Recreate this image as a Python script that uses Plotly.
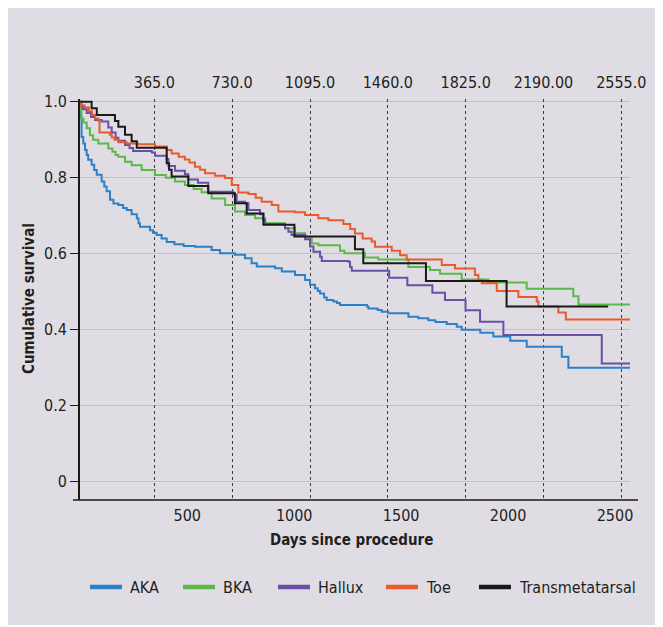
import plotly.graph_objects as go

# ---------------- data ----------------
series_names = ["AKA", "BKA", "Hallux", "Toe", "Transmetatarsal"]
series_colors = ["#2d80c6", "#5cb848", "#6a4fa8", "#eb5a2d", "#1a1a1a"]

aka_days = [0, 2, 6, 14, 22, 30, 37, 53, 65, 77, 100, 112, 123, 139, 155, 178, 200, 217, 240, 264, 272, 279, 326, 340,
            357, 380, 404, 440, 483, 536, 614, 653, 723, 770, 801, 825, 911, 942, 1004, 1051, 1074, 1097, 1110, 1121,
            1140, 1152, 1183, 1200, 1214, 1340, 1347, 1390, 1409, 1440, 1534, 1580, 1627, 1660, 1713, 1760, 1783, 1870,
            1931, 2010, 2087, 2251, 2282, 2570]
aka_surv = [1.0, 0.96, 0.907, 0.89, 0.873, 0.86, 0.847, 0.834, 0.82, 0.808, 0.79, 0.777, 0.764, 0.742, 0.732, 0.728,
            0.72, 0.715, 0.704, 0.693, 0.68, 0.671, 0.662, 0.655, 0.649, 0.64, 0.631, 0.625, 0.62, 0.618, 0.610, 0.601,
            0.597, 0.588, 0.575, 0.566, 0.562, 0.553, 0.544, 0.531, 0.518, 0.509, 0.502, 0.495, 0.485, 0.478, 0.474,
            0.47, 0.465, 0.461, 0.456, 0.452, 0.447, 0.443, 0.434, 0.43, 0.425, 0.42, 0.415, 0.408, 0.40, 0.392, 0.382,
            0.371, 0.355, 0.329, 0.300, 0.300]

bka_days = [0, 2, 5, 15, 30, 45, 60, 84, 131, 150, 165, 178, 209, 240, 287, 349, 400, 443, 489, 530, 567, 614, 677, 723,
            770, 817, 864, 957, 1004, 1051, 1082, 1113, 1214, 1235, 1331, 1393, 1534, 1635, 1682, 1783, 1908, 2087,
            2305, 2329, 2570]
bka_surv = [1.0, 0.975, 0.955, 0.945, 0.93, 0.912, 0.90, 0.89, 0.877, 0.868, 0.86, 0.855, 0.842, 0.833, 0.82, 0.807,
            0.80, 0.79, 0.781, 0.77, 0.762, 0.745, 0.728, 0.711, 0.702, 0.693, 0.680, 0.667, 0.654, 0.640, 0.627,
            0.622, 0.608, 0.601, 0.590, 0.585, 0.565, 0.557, 0.547, 0.532, 0.524, 0.508, 0.488, 0.466, 0.466]

hallux_days = [0, 5, 12, 30, 50, 69, 100, 131, 147, 165, 178, 209, 230, 247, 334, 349, 404, 412, 443, 489, 505, 550,
               598, 715, 731, 770, 786, 840, 856, 864, 957, 973, 988, 1051, 1074, 1090, 1121, 1129, 1253, 1261, 1269,
               1444, 1529, 1646, 1705, 1801, 1869, 1978, 2438, 2570]
hallux_surv = [1.0, 0.99, 0.98, 0.97, 0.96, 0.952, 0.948, 0.932, 0.919, 0.905, 0.897, 0.886, 0.878, 0.870, 0.866,
               0.858, 0.849, 0.831, 0.818, 0.809, 0.795, 0.787, 0.763, 0.755, 0.737, 0.733, 0.715, 0.704, 0.689, 0.678,
               0.667, 0.658, 0.649, 0.638, 0.619, 0.605, 0.592, 0.581, 0.579, 0.565, 0.555, 0.537, 0.517, 0.497, 0.478,
               0.451, 0.421, 0.386, 0.311, 0.311]

toe_days = [0, 3, 20, 40, 55, 69, 85, 90, 139, 147, 160, 178, 217, 271, 349, 404, 427, 460, 489, 510, 536, 560, 583, 630,
            677, 708, 739, 786, 820, 848, 895, 926, 1004, 1051, 1113, 1160, 1230, 1262, 1284, 1320, 1362, 1378, 1456,
            1495, 1526, 1690, 1752, 1845, 1861, 1877, 1947, 2048, 2134, 2142, 2235, 2270, 2570]
toe_surv = [1.0, 0.99, 0.985, 0.975, 0.965, 0.956, 0.95, 0.919, 0.913, 0.906, 0.90, 0.893, 0.89, 0.888, 0.882, 0.873,
            0.864, 0.855, 0.848, 0.84, 0.829, 0.821, 0.812, 0.805, 0.799, 0.781, 0.761, 0.757, 0.747, 0.737, 0.728,
            0.711, 0.709, 0.702, 0.693, 0.688, 0.678, 0.665, 0.653, 0.64, 0.632, 0.618, 0.608, 0.596, 0.585, 0.570,
            0.561, 0.544, 0.531, 0.522, 0.502, 0.486, 0.474, 0.461, 0.445, 0.427, 0.427]

tmt_days = [0, 53, 77, 162, 178, 209, 240, 264, 404, 415, 427, 505, 598, 723, 778, 856, 1001, 1284, 1323, 1616, 1993,
            2468]
tmt_surv = [1.0, 0.983, 0.965, 0.949, 0.934, 0.913, 0.896, 0.879, 0.838, 0.821, 0.803, 0.778, 0.759, 0.733, 0.706,
            0.676, 0.645, 0.612, 0.575, 0.528, 0.461, 0.461]

x_ticks = [500, 1000, 1500, 2000, 2500]
y_ticks = [0, 0.2, 0.4, 0.6, 0.8, 1.0]
y_tick_labels = ["0", "0.2", "0.4", "0.6", "0.8", "1.0"]
top_ticks = [365, 730, 1095, 1460, 1825, 2190, 2555]
top_tick_labels = ["365.0", "730.0", "1095.0", "1460.0", "1825.0", "2190.00", "2555.0"]

x_title = "Days since procedure"
y_title = "Cumulative survival"

# ---------------- figure ----------------
FONT = "DejaVu Sans Condensed, Liberation Sans Narrow, Arial Narrow, sans-serif"
BG = "#dfdde3"
TXT = "#231f20"
TICK_SIZE = 16

all_days = [aka_days, bka_days, hallux_days, toe_days, tmt_days]
all_surv = [aka_surv, bka_surv, hallux_surv, toe_surv, tmt_surv]

fig = go.Figure()
for name, col, xs, ys in zip(series_names, series_colors, all_days, all_surv):
    fig.add_trace(go.Scatter(x=xs, y=ys, mode="lines", name=name, showlegend=False,
                             line=dict(color=col, width=2, shape="hv")))
# carrier for the top (yearly) axis so that its dashed grid is drawn
fig.add_trace(go.Scatter(x=top_ticks, y=[None] * len(top_ticks), xaxis="x2", yaxis="y", mode="lines",
                         showlegend=False, hoverinfo="skip"))

OFF = 8  # page body margin
W, H = 663 - OFF, 627 - OFF
L, R = 80 - OFF, 33
T = 99 - OFF
B = H - (500 - OFF)
pw, ph = W - L - R, H - T - B


def px(x):
    return (x - OFF - L) / pw


def py(y):
    return (H - B - (y - OFF)) / ph


shapes = []
shapes.append(dict(type="rect", xref="paper", yref="paper", x0=px(0), x1=px(663), y0=py(625), y1=py(0),
                   fillcolor=BG, line=dict(width=0), layer="below"))
shapes.append(dict(type="line", xref="paper", yref="paper", x0=px(73), x1=px(638), y0=0, y1=0,
                   line=dict(color="#1a1a1a", width=1.6)))

annotations = [
    dict(text=f"<b>{x_title}</b>", xref="paper", yref="paper", x=px(351), y=py(540), showarrow=False,
         xanchor="center", yanchor="middle", font=dict(family=FONT, size=15, color=TXT)),
    dict(text=f"<b>{y_title}</b>", xref="paper", yref="paper", x=px(29), y=py(299), showarrow=False,
         xanchor="center", yanchor="middle", textangle=-90, font=dict(family=FONT, size=15, color=TXT)),
]

leg_line_x = [90, 183, 278, 386, 479]
leg_y = 587
for name, col, lx in zip(series_names, series_colors, leg_line_x):
    shapes.append(dict(type="line", xref="paper", yref="paper", x0=px(lx), x1=px(lx + 32), y0=py(leg_y), y1=py(leg_y),
                       line=dict(color=col, width=4.5)))
    annotations.append(dict(text=name, xref="paper", yref="paper", x=px(lx + 38), y=py(leg_y), showarrow=False,
                            xanchor="left", yanchor="middle", font=dict(family=FONT, size=16, color=TXT)))

fig.update_layout(
    width=W, height=H,
    margin=dict(l=L, r=R, t=T, b=B, pad=0),
    paper_bgcolor="white", plot_bgcolor=BG,
    font=dict(family=FONT, size=TICK_SIZE, color=TXT),
    showlegend=False,
    shapes=shapes, annotations=annotations,
    xaxis=dict(range=[-1.4, 2570], tickvals=x_ticks, showgrid=False, showline=False, zeroline=False,
               ticks="", tickfont=dict(size=TICK_SIZE, color=TXT), ticklabelstandoff=4),
    xaxis2=dict(overlaying="x", side="top", anchor="y", range=[16.4, 2595.7], tickvals=top_ticks,
                ticktext=top_tick_labels, showgrid=True, gridcolor="#3c3c3c", gridwidth=1, griddash="3px,3px",
                zeroline=False, showline=False, ticks="", tickfont=dict(size=TICK_SIZE, color=TXT),
                ticklabelstandoff=7),
    yaxis=dict(range=[-0.0482, 1.0071], tickvals=y_ticks, ticktext=y_tick_labels, showgrid=True,
               gridcolor="#c4c2c8", gridwidth=1, zeroline=False, showline=True, linecolor="#1a1a1a",
               linewidth=1.6, ticks="outside", ticklen=8, tickcolor="#1a1a1a", tickwidth=1.2,
               tickfont=dict(size=TICK_SIZE, color=TXT)),
)

fig.write_html("out.html")
